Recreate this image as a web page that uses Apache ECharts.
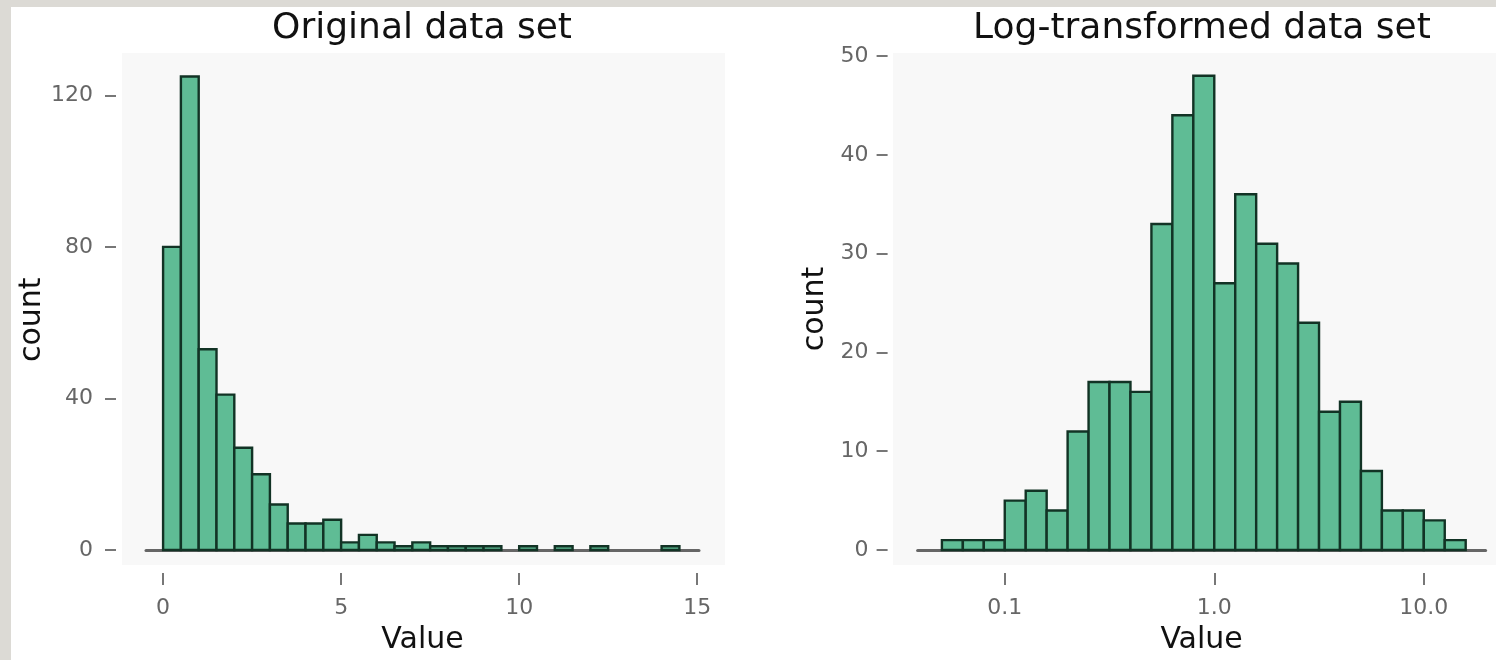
<!DOCTYPE html>
<html>
<head>
<meta charset="utf-8">
<script src="https://cdn.jsdelivr.net/npm/echarts@6/dist/echarts.min.js"></script>
<style>
html,body{margin:0;padding:0;background:#dcdad5;}
#c{width:1496px;height:660px;}
</style>
</head>
<body>
<div id="c"></div>
<script>
// ---- data ----
const titles = ['Original data set', 'Log-transformed data set'];
const xName = 'Value';
const yName = 'count';

// Left histogram: bin lower edges (value units), width 0.5
const origBinLower = [0, 0.5, 1, 1.5, 2, 2.5, 3, 3.5, 4, 4.5, 5, 5.5, 6, 6.5, 7, 7.5, 8, 8.5, 9, 9.5, 10, 10.5, 11, 11.5, 12, 12.5, 13, 13.5, 14];
const origBinWidth = 0.5;
const origCounts = [80, 125, 53, 41, 27, 20, 12, 7, 7, 8, 2, 4, 2, 1, 2, 1, 1, 1, 1, 0, 1, 0, 1, 0, 1, 0, 0, 0, 1];
const origXTicks = [0, 5, 10, 15];
const origYTicks = [0, 40, 80, 120];

// Right histogram: bin lower edges in log10 units, width 0.1 decade
const logBinLower = [-1.3, -1.2, -1.1, -1.0, -0.9, -0.8, -0.7, -0.6, -0.5, -0.4, -0.3, -0.2, -0.1, 0.0, 0.1, 0.2, 0.3, 0.4, 0.5, 0.6, 0.7, 0.8, 0.9, 1.0, 1.1];
const logBinWidth = 0.1;
const logCounts = [1, 1, 1, 5, 6, 4, 12, 17, 17, 16, 33, 44, 48, 27, 36, 31, 29, 23, 14, 15, 8, 4, 4, 3, 1];
const logXTicks = [-1, 0, 1];           // 0.1, 1.0, 10.0
const logYTicks = [0, 10, 20, 30, 40, 50];

// ---- styling ----
const FONT = 'DejaVu Sans';
const FILL = '#5fbc95';
const STROKE = '#123325';
const TICK_COLOR = '#777777';
const LABEL_COLOR = '#666666';

const origData = origBinLower.map((lo, i) => [lo, lo + origBinWidth, origCounts[i]]);
const logData = logBinLower.map((lo, i) => [lo, lo + logBinWidth, logCounts[i]]);

function renderBar(params, api) {
  const h = api.value(2);
  if (!h) return null;
  const p0 = api.coord([api.value(0), h]);
  const p1 = api.coord([api.value(1), 0]);
  return {
    type: 'rect',
    shape: { x: p0[0], y: p0[1], width: p1[0] - p0[0], height: p1[1] - p0[1] },
    style: { fill: FILL, stroke: STROKE, lineWidth: 2.4 }
  };
}

function mainX(grid, min, max, ticks, fmt) {
  return {
    gridIndex: grid, type: 'value', min: min, max: max, position: 'bottom', offset: 23,
    axisLine: { show: false, onZero: false },
    axisTick: { show: true, length: 12, customValues: ticks, lineStyle: { color: TICK_COLOR, width: 2 } },
    axisLabel: { customValues: ticks, margin: 24, color: LABEL_COLOR, fontSize: 22, fontFamily: FONT, formatter: fmt },
    splitLine: { show: false },
    name: xName, nameLocation: 'middle', nameGap: 52,
    nameTextStyle: { fontSize: 30, color: '#111', fontFamily: FONT }
  };
}
function baseX(grid, min, max) {
  return {
    gridIndex: grid, type: 'value', min: min, max: max, position: 'bottom', offset: 0,
    axisLine: { show: true, onZero: false, lineStyle: { color: '#666', width: 3 } },
    axisTick: { show: false }, axisLabel: { show: false }, splitLine: { show: false }
  };
}
function mainY(grid, max, ticks, margin, gap, pad) {
  return {
    gridIndex: grid, type: 'value', min: 0, max: max, position: 'left', offset: 30,
    axisLine: { show: false, onZero: false },
    axisTick: { show: true, length: 11, customValues: ticks, lineStyle: { color: TICK_COLOR, width: 2 } },
    axisLabel: { customValues: ticks, margin: margin, color: LABEL_COLOR, fontSize: 22, fontFamily: FONT },
    splitLine: { show: false },
    name: yName, nameLocation: 'middle', nameGap: gap,
    nameTextStyle: { fontSize: 30, color: '#111', fontFamily: FONT, padding: pad }
  };
}

const chart = echarts.init(document.getElementById('c'), null, { renderer: 'canvas' });
chart.setOption({
  animation: false,
  backgroundColor: '#dcdad5',
  graphic: {
    elements: [
      { type: 'rect', z: -10, silent: true, shape: { x: 11, y: 7, width: 1485, height: 653 }, style: { fill: '#ffffff' } },
      { type: 'rect', z: -9, silent: true, shape: { x: 122, y: 53, width: 603, height: 512 }, style: { fill: '#f8f8f8' } },
      { type: 'rect', z: -9, silent: true, shape: { x: 893, y: 53, width: 603, height: 512 }, style: { fill: '#f8f8f8' } }
    ]
  },
  title: [
    { text: titles[0], left: 422, top: 11, textAlign: 'center', padding: 0,
      textStyle: { fontSize: 36, fontWeight: 'normal', color: '#111', fontFamily: FONT } },
    { text: titles[1], left: 1202, top: 11, textAlign: 'center', padding: 0,
      textStyle: { fontSize: 36, fontWeight: 'normal', color: '#111', fontFamily: FONT } }
  ],
  grid: [
    { left: 146, top: 57.5, width: 553, height: 494, containLabel: false },
    { left: 917.6, top: 56, width: 568, height: 495.5, containLabel: false }
  ],
  xAxis: [
    mainX(0, -0.48, 15.05, origXTicks, v => String(v)),
    baseX(0, -0.48, 15.05),
    mainX(1, -1.416, 1.295, logXTicks, v => Math.pow(10, v).toFixed(1)),
    baseX(1, -1.416, 1.295)
  ],
  yAxis: [
    mainY(0, 130, origYTicks, 23, 62, [0, 32, 0, 0]),
    mainY(1, 50, logYTicks, 19, 57, [0, 12, 0, 0])
  ],
  series: [
    { type: 'custom', xAxisIndex: 0, yAxisIndex: 0, data: origData, renderItem: renderBar,
      encode: { x: [0, 1], y: 2 }, clip: false, z: 3 },
    { type: 'custom', xAxisIndex: 2, yAxisIndex: 1, data: logData, renderItem: renderBar,
      encode: { x: [0, 1], y: 2 }, clip: false, z: 3 }
  ]
});
</script>
</body>
</html>
